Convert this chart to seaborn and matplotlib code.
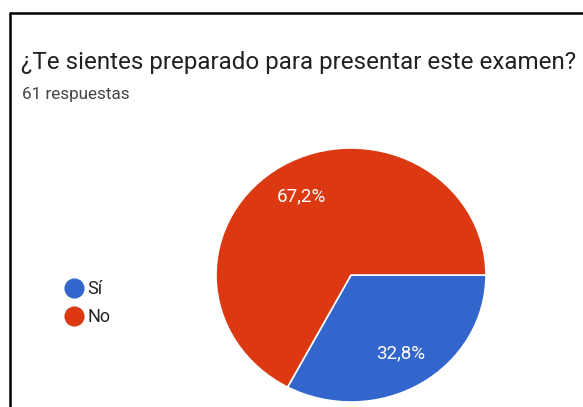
import matplotlib
matplotlib.use("Agg")
import matplotlib.pyplot as plt
import seaborn as sns
from matplotlib.lines import Line2D

# survey answers (61 respuestas)
labels = ["Sí", "No"]
counts = [20, 41]
colors = ["#3366CC", "#DC3912"]

title = "¿Te sientes preparado para presentar este examen?"
subtitle = "61 respuestas"

sns.set_theme(style="white")
plt.rcParams['font.family'] = ['Roboto', 'DejaVu Sans']

fig = plt.figure(figsize=(5.83, 4.07), dpi=100)
fig.patch.set_facecolor("white")

W, H = 583, 407
cx, cy, rx, ry = 351, 275, 135, 127
ax = fig.add_axes([(cx - rx) / W, (H - cy - ry) / H, 2 * rx / W, 2 * ry / H])

wedges, texts, autotexts = ax.pie(
    counts, colors=colors, startangle=0, counterclock=False,
    autopct=lambda p: f"{p:.1f}%".replace(".", ","), pctdistance=0.72,
    wedgeprops=dict(edgecolor="white", linewidth=1.2),
    textprops=dict(color="white", fontsize=13.5),
)
ax.set_aspect("auto")
ax.set_xlim(-1, 1)
ax.set_ylim(-1, 1)
ax.axis("off")

fig.text(21 / W, 1 - 62 / H, title, fontsize=17.4, color="#212121", va="center", ha="left")
fig.text(22 / W, 1 - 94 / H, subtitle, fontsize=12.3, color="#444444", va="center", ha="left")

handles = [Line2D([], [], marker="o", linestyle="", markersize=13.5,
                  markerfacecolor=c, markeredgecolor=c) for c in colors]
fig.legend(handles, labels, loc="center left", bbox_to_anchor=(54 / W, 1 - 303 / H),
           frameon=False, fontsize=13, handletextpad=0.15, labelspacing=0.55,
           handlelength=1.2, borderpad=0, labelcolor="#222222")

# screenshot frame lines
fig.add_artist(Line2D([10 / W, 1], [1 - 13 / H, 1 - 13 / H], color="black", linewidth=1.8))
fig.add_artist(Line2D([10 / W, 10 / W], [0, 1 - 13 / H], color="black", linewidth=1.8))

fig.savefig("out.png", dpi=100, facecolor="white")
